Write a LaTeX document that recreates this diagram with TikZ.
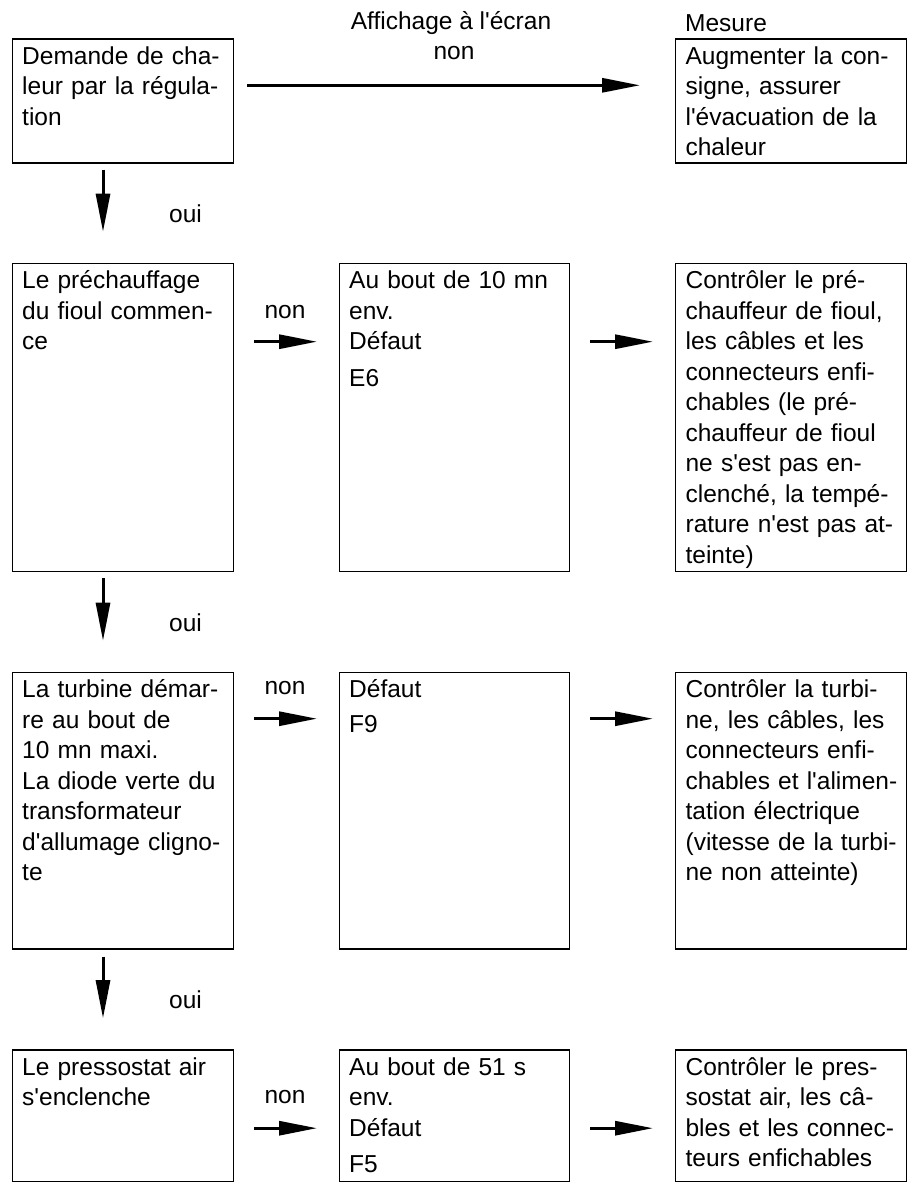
\documentclass[tikz,border=0pt]{standalone}
\usepackage{fontspec}
\setmainfont{Liberation Sans}[Ligatures=TeXOff]
\usetikzlibrary{arrows.meta,calc}
\begin{document}
\begin{tikzpicture}[x=1pt,y=-1pt,
  box/.style={draw=black,line width=1.4pt,inner sep=0pt,anchor=north west},
  txt/.style={anchor=north west,inner sep=0pt,align=left,text width=240pt,
    font=\fontsize{24.5}{30.5}\selectfont},
  lbl/.style={inner sep=0pt,font=\fontsize{24.5}{30.5}\selectfont},
  arr/.style={line width=3pt,-{Triangle[length=38pt,width=14pt]}}]
\useasboundingbox (0,0) rectangle (912,1185);
% boxes
\node[box,minimum width=221.4pt,minimum height=124pt] (b11) at (11.6,38.3) {};
\node[box,minimum width=231pt,minimum height=124pt] (b13) at (675,38.3) {};
\node[box,minimum width=221.4pt,minimum height=308pt] (b21) at (11.6,262.7) {};
\node[box,minimum width=230.4pt,minimum height=308pt] (b22) at (338.6,262.7) {};
\node[box,minimum width=231pt,minimum height=308pt] (b23) at (675,262.7) {};
\node[box,minimum width=221.4pt,minimum height=276.5pt] (b31) at (11.6,671.7) {};
\node[box,minimum width=230.4pt,minimum height=276.5pt] (b32) at (338.6,671.7) {};
\node[box,minimum width=231pt,minimum height=276.5pt] (b33) at (675,671.7) {};
\node[box,minimum width=221.4pt,minimum height=131.6pt] (b41) at (11.6,1049.2) {};
\node[box,minimum width=230.4pt,minimum height=131.6pt] (b42) at (338.6,1049.2) {};
\node[box,minimum width=231pt,minimum height=131.6pt] (b43) at (675,1049.2) {};
% box texts
\node[txt] (t11) at ([shift={(10.4,4.4)}]b11.north west) {\strut Demande de cha-\\leur par la régula-\\tion};
\node[txt] (t13) at ([shift={(10.4,4.4)}]b13.north west) {\strut Augmenter la con-\\signe, assurer\\l'évacuation de la\\chaleur};
\node[txt] (t21) at ([shift={(10.4,4.4)}]b21.north west) {\strut Le préchauffage\\du fioul commen-\\ce};
\node[txt] (t22) at ([shift={(10.4,4.4)}]b22.north west) {\strut Au bout de 10 mn\\env.\\Défaut\\[6pt]E6};
\node[txt] (t23) at ([shift={(10.4,4.4)}]b23.north west) {\strut Contrôler le pré-\\chauffeur de fioul,\\les câbles et les\\connecteurs enfi-\\chables (le pré-\\chauffeur de fioul\\ne s'est pas en-\\clenché, la tempé-\\rature n'est pas at-\\teinte)};
\node[txt] (t31) at ([shift={(10.4,4.4)}]b31.north west) {\strut La turbine démar-\\re au bout de\\10 mn maxi.\\La diode verte du\\transformateur\\d'allumage cligno-\\te};
\node[txt] (t32) at ([shift={(10.4,4.4)}]b32.north west) {\strut Défaut\\[4pt]F9};
\node[txt] (t33) at ([shift={(10.4,4.4)}]b33.north west) {\strut Contrôler la turbi-\\ne, les câbles, les\\connecteurs enfi-\\chables et l'alimen-\\tation électrique\\(vitesse de la turbi-\\ne non atteinte)};
\node[txt] (t41) at ([shift={(10.4,4.4)}]b41.north west) {\strut Le pressostat air\\s'enclenche};
\node[txt] (t42) at ([shift={(10.4,4.4)}]b42.north west) {\strut Au bout de 51 s\\env.\\Défaut\\[6pt]F5};
\node[txt] (t43) at ([shift={(10.4,4.4)}]b43.north west) {\strut Contrôler le pres-\\sostat air, les câ-\\bles et les connec-\\teurs enfichables};
% headers and labels
\node[lbl] (hdisp) at (451,23) {Affichage à l'écran};
\node[lbl,anchor=base west] (hmes) at (685,32) {Mesure};
\node[lbl] (n1) at (454,53) {non};
\node[lbl] (n2) at (285,311.7) {non};
\node[lbl] (n3) at (285,688) {non};
\node[lbl] (n4) at (285,1097) {non};
\node[lbl] (o1) at (185.5,214) {oui};
\node[lbl] (o2) at (185.5,623) {oui};
\node[lbl] (o3) at (185.5,1000) {oui};
% connectors
\draw[arr] ([shift={(13,47)}]b11.north east) -- ([shift={(-35,47)}]b13.north west);
\draw[arr] ([shift={(20,79)}]b21.north east) -- ([shift={(-21.6,79)}]b22.north west);
\draw[arr] ([shift={(20,79)}]b22.north east) -- ([shift={(-22,79)}]b23.north west);
\draw[arr] ([shift={(20,47)}]b31.north east) -- ([shift={(-21.6,47)}]b32.north west);
\draw[arr] ([shift={(20,47)}]b32.north east) -- ([shift={(-22,47)}]b33.north west);
\draw[arr] ([shift={(20,79)}]b41.north east) -- ([shift={(-21.6,79)}]b42.north west);
\draw[arr] ([shift={(20,79)}]b42.north east) -- ([shift={(-22,79)}]b43.north west);
\draw[arr] ([shift={(91.4,6)}]b11.south west) -- ([shift={(91.4,-31)}]b21.north west);
\draw[arr] ([shift={(91.4,6)}]b21.south west) -- ([shift={(91.4,-31)}]b31.north west);
\draw[arr] ([shift={(91.4,7)}]b31.south west) -- ([shift={(91.4,-31)}]b41.north west);
\end{tikzpicture}
\end{document}
